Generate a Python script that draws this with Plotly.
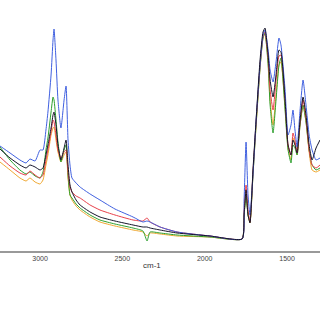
import plotly.graph_objects as go

wavenumber = [3243, 3182, 3122, 3085, 3061, 3030, 3000, 2982, 2964, 2952, 2933, 2921, 2915, 2903,
              2891, 2873, 2854, 2842, 2830, 2818, 2806, 2781, 2757, 2696, 2636, 2545, 2435, 2375,
              2350, 2332, 2271, 2168, 1968, 1773, 1761, 1749, 1737, 1725, 1707, 1688, 1664, 1646,
              1634, 1615, 1603, 1585, 1567, 1549, 1537, 1512, 1494, 1476, 1464, 1452, 1439, 1421,
              1403, 1385, 1366, 1348, 1324, 1300]

blue = [1.05, 0.98, 0.91, 0.88, 0.92, 0.90, 1.01, 1.01, 1.21, 1.39, 1.76, 2.11, 2.22, 1.91,
        1.51, 1.23, 1.51, 1.65, 1.11, 0.86, 0.73, 0.68, 0.64, 0.57, 0.51, 0.42, 0.34, 0.29,
        0.30, 0.29, 0.24, 0.19, 0.15, 0.12, 0.51, 1.09, 0.56, 0.36, 0.76, 1.31, 1.86, 2.16,
        2.21, 2.01, 1.81, 1.69, 1.89, 2.13, 2.06, 1.61, 1.16, 1.26, 1.41, 1.21, 1.04, 1.41,
        1.71, 1.46, 1.16, 1.01, 0.91, 0.93]

black = [1.02, 0.93, 0.86, 0.83, 0.86, 0.84, 0.81, 0.83, 0.96, 1.06, 1.23, 1.36, 1.39, 1.26,
         1.06, 0.91, 1.03, 1.11, 0.86, 0.66, 0.59, 0.51, 0.46, 0.39, 0.34, 0.30, 0.26, 0.24,
         0.24, 0.23, 0.21, 0.18, 0.15, 0.12, 0.36, 0.61, 0.36, 0.28, 0.81, 1.31, 1.91, 2.19,
         2.23, 1.96, 1.71, 1.54, 1.76, 2.01, 1.99, 1.51, 1.06, 0.96, 1.11, 1.06, 0.98, 1.31,
         1.54, 1.36, 1.06, 0.91, 1.03, 1.11]

red = [0.94, 0.85, 0.78, 0.76, 0.80, 0.76, 0.73, 0.76, 0.91, 1.01, 1.19, 1.31, 1.29, 1.16,
       1.01, 0.93, 0.99, 1.01, 0.79, 0.64, 0.59, 0.55, 0.53, 0.46, 0.41, 0.36, 0.31, 0.30,
       0.33, 0.29, 0.24, 0.19, 0.15, 0.12, 0.41, 0.66, 0.41, 0.29, 0.79, 1.29, 1.86, 2.15,
       2.19, 1.93, 1.61, 1.41, 1.71, 1.95, 1.96, 1.51, 1.06, 0.96, 1.18, 1.11, 0.98, 1.29,
       1.51, 1.33, 1.01, 0.86, 0.83, 0.86]

green = [1.04, 0.91, 0.81, 0.77, 0.79, 0.75, 0.73, 0.79, 1.01, 1.13, 1.39, 1.54, 1.51, 1.31,
         1.09, 0.89, 1.01, 1.06, 0.76, 0.56, 0.53, 0.47, 0.43, 0.36, 0.31, 0.27, 0.23, 0.20,
         0.10, 0.19, 0.18, 0.16, 0.14, 0.12, 0.36, 0.56, 0.36, 0.29, 0.76, 1.26, 1.83, 2.13,
         2.18, 1.86, 1.46, 1.18, 1.51, 1.86, 1.93, 1.41, 1.01, 0.88, 1.06, 1.03, 0.96, 1.26,
         1.46, 1.29, 1.01, 0.86, 0.81, 0.83]

orange = [0.89, 0.81, 0.73, 0.70, 0.73, 0.69, 0.67, 0.71, 0.86, 0.96, 1.16, 1.23, 1.24, 1.11,
          0.99, 0.89, 0.96, 0.99, 0.73, 0.56, 0.51, 0.45, 0.41, 0.34, 0.29, 0.25, 0.21, 0.19,
          0.15, 0.18, 0.17, 0.15, 0.14, 0.12, 0.36, 0.56, 0.36, 0.28, 0.76, 1.26, 1.83, 2.13,
          2.17, 1.89, 1.51, 1.26, 1.56, 1.86, 1.89, 1.43, 1.03, 0.91, 1.13, 1.08, 0.96, 1.26,
          1.46, 1.29, 0.99, 0.81, 0.79, 0.81]

tick_vals = [3000, 2500, 2000, 1500]
tick_text = ["3000", "2500", "2000", "1500"]
x_title = "cm-1"

series = [
    ("orange", orange, "#f0a830"),
    ("green", green, "#2ea02e"),
    ("red", red, "#e8404a"),
    ("blue", blue, "#4060e0"),
    ("black", black, "#15152a"),
]

fig = go.Figure()
for name, vals, col in series:
    fig.add_trace(go.Scatter(
        x=wavenumber, y=vals, mode="lines", name=name,
        line=dict(color=col, width=1, shape="spline", smoothing=0.5),
        showlegend=False,
    ))

fig.update_layout(
    width=320, height=320,
    margin=dict(l=0, r=0, t=0, b=69),
    paper_bgcolor="white", plot_bgcolor="white",
    xaxis=dict(
        range=[3243, 1300], tickvals=tick_vals, ticktext=tick_text,
        showgrid=False, zeroline=False, showline=True, linecolor="#999999", linewidth=2,
        ticks="", tickfont=dict(family="Arial, Liberation Sans", size=7, color="#444444"),
    ),
    yaxis=dict(range=[0, 2.51], visible=False),
    annotations=[dict(
        text=x_title, x=0.475, y=-0.056, xref="paper", yref="paper",
        showarrow=False, xanchor="center", yanchor="middle",
        font=dict(family="Arial, Liberation Sans", size=8, color="#333333"),
    )],
)

fig.write_html("out.html")
